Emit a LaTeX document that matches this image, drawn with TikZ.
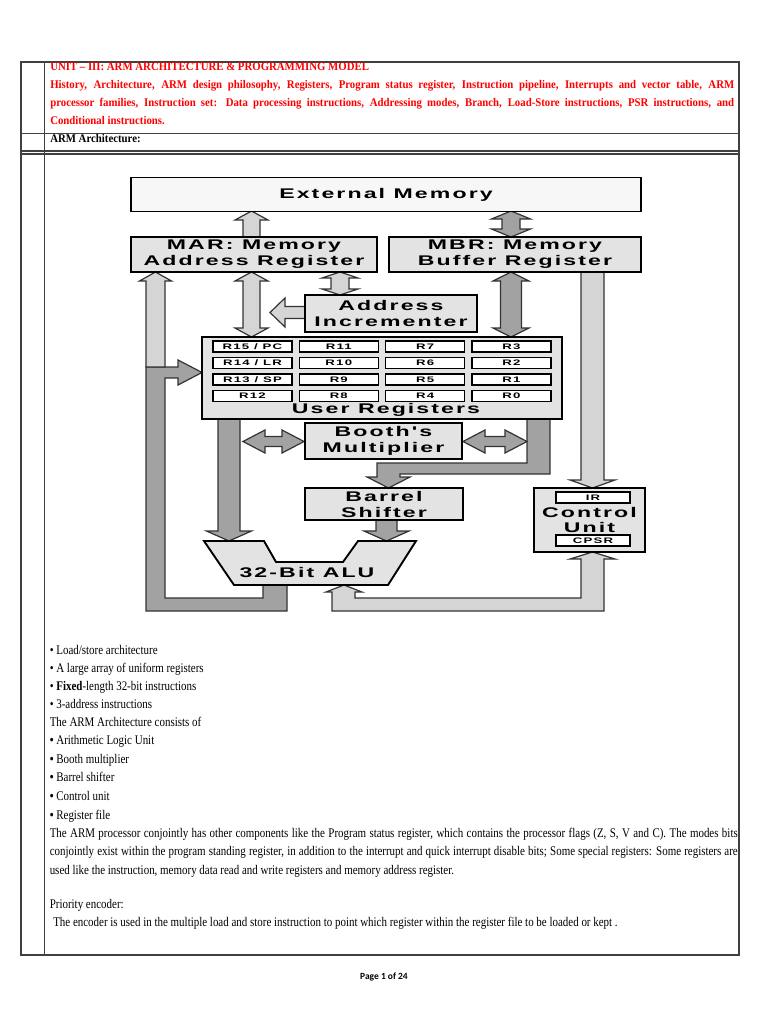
\documentclass[tikz,border=0pt]{standalone}
\usepackage{fontspec}
\setmainfont{Liberation Serif}[FakeStretch=0.83]
\newfontfamily\headfont{Liberation Serif}[FakeStretch=0.92]
\newfontfamily\blockfont{Liberation Sans Bold}[FakeStretch=1.65,LetterSpace=15]
\newfontfamily\footfont{Carlito}
\definecolor{headred}{HTML}{FF0000}
\definecolor{panelgray}{HTML}{E3E3E3}
\definecolor{buslight}{HTML}{D5D5D5}
\definecolor{busdark}{HTML}{A2A2A2}
\definecolor{rulegray}{HTML}{404040}

% Block arrows of the data paths: fill, centre, tips, shaft and head half widths.
\newcommand{\busvboth}[7]{%
  \filldraw[busline,fill=#1] ({#2-#5},{#3+#7}) -- ({#2-#6},{#3+#7}) -- (#2,#3)
    -- ({#2+#6},{#3+#7}) -- ({#2+#5},{#3+#7}) -- ({#2+#5},{#4-#7})
    -- ({#2+#6},{#4-#7}) -- (#2,#4) -- ({#2-#6},{#4-#7}) -- ({#2-#5},{#4-#7}) -- cycle;}
\newcommand{\bushboth}[7]{%
  \filldraw[busline,fill=#1] ({#3+#7},{#2-#5}) -- ({#3+#7},{#2-#6}) -- (#3,#2)
    -- ({#3+#7},{#2+#6}) -- ({#3+#7},{#2+#5}) -- ({#4-#7},{#2+#5})
    -- ({#4-#7},{#2+#6}) -- (#4,#2) -- ({#4-#7},{#2-#6}) -- ({#4-#7},{#2-#5}) -- cycle;}
\newcommand{\busvone}[7]{%
  \filldraw[busline,fill=#1] ({#2-#6},#5) -- ({#2-#6},#4) -- ({#2-#7},#4) -- (#2,#3)
    -- ({#2+#7},#4) -- ({#2+#6},#4) -- ({#2+#6},#5) -- cycle;}
\newcommand{\bushone}[7]{%
  \filldraw[busline,fill=#1] (#5,{#2-#6}) -- (#4,{#2-#6}) -- (#4,{#2-#7}) -- (#3,#2)
    -- (#4,{#2+#7}) -- (#4,{#2+#6}) -- (#5,{#2+#6}) -- cycle;}

\begin{document}
\begin{tikzpicture}[x=0.75pt,y=-0.75pt,
    unitbox/.style={draw=black,line width=1.4pt,fill=panelgray,inner sep=0pt,
      align=center,font=\blockfont\fontsize{10.5}{12}\selectfont},
    regcell/.style={draw=black,line width=1.2pt,fill=white,inner sep=0pt,
      minimum width=59.25pt,minimum height=8.25pt,
      font=\blockfont\fontsize{6}{6}\selectfont},
    busline/.style={draw=black!80,line width=0.9pt,line join=miter},
    tablerule/.style={draw=rulegray,line width=1pt},
    headline/.style={anchor=base west,inner sep=0pt,text=headred,
      font=\headfont\bfseries\fontsize{8.8}{9}\selectfont},
    bodyline/.style={anchor=base west,inner sep=0pt,font=\fontsize{9.9}{10}\selectfont}]
  \fill[white] (0,0) rectangle (768,1024);
  \useasboundingbox (0,0) rectangle (768,1024);

  % Table frame of the page.
  \draw[tablerule] (21,62) rectangle (739,955);
  \draw[tablerule] (44.5,62) -- (44.5,955);
  \draw[tablerule] (21,133.3) -- (739,133.3);
  \draw[tablerule] (21,151) -- (739,151);
  \draw[tablerule] (21,154) -- (739,154);

  % Unit heading in red.
  \node[headline] (unit) at (50,71) {UNIT – III: ARM ARCHITECTURE \& PROGRAMMING MODEL};
  \node[headline] (topicsa) at (50,89) {\makebox[513pt][s]{History, Architecture, ARM design
    philosophy, Registers, Program status register, Instruction pipeline, Interrupts and
    vector table, ARM}};
  \node[headline] (topicsb) at (50,107) {\makebox[513pt][s]{processor families, Instruction
    set: Data processing instructions, Addressing modes, Branch, Load-Store instructions,
    PSR instructions, and}};
  \node[headline] (topicsc) at (50,124.5) {Conditional instructions.};
  \node[headline,text=black] (archtitle) at (50,142.5) {ARM Architecture:};

  % Data paths, drawn before the units so the unit borders stay on top.
  \filldraw[busline,fill=busdark] (287,585) -- (287,611) -- (146,611) -- (146,367)
    -- (178,367) -- (178,360) -- (202,372.5) -- (178,385) -- (178,378) -- (165,378)
    -- (165,598) -- (263,598) -- (263,585) -- cycle;
  \busvone{buslight}{155.5}{272}{281}{367}{9.5}{16}
  \filldraw[busline,fill=busdark] (550,419) -- (550,474) -- (400,474) -- (400,477)
    -- (410,477) -- (388.5,488) -- (367,477) -- (377,477) -- (377,463) -- (527,463)
    -- (527,419) -- cycle;
  \filldraw[busline,fill=buslight] (332,611) -- (332,592) -- (326,592) -- (344,585)
    -- (362,592) -- (355,592) -- (355,598) -- (581,598) -- (581,559) -- (570,559)
    -- (592.5,552) -- (615,559) -- (604,559) -- (604,611) -- cycle;
  \busvone{buslight}{592.5}{488}{480}{272}{11.5}{22.5}
  \busvone{busdark}{229}{541}{531}{419}{11}{22.5}
  \busvone{busdark}{386.5}{541}{531}{520}{10.5}{22.5}
  \busvone{buslight}{251.5}{211}{220}{237}{8.5}{16.5}
  \busvboth{busdark}{511}{211}{237}{9}{19.5}{8}
  \busvboth{buslight}{251.5}{272}{337}{8.5}{16.5}{9}
  \busvboth{buslight}{340}{272}{295}{9}{18}{6}
  \busvboth{busdark}{511}{272}{337}{10.5}{18}{9}
  \bushone{buslight}{312.5}{270}{285}{305}{6}{14.5}
  \bushboth{busdark}{441.5}{243}{304}{5}{11.5}{22}
  \bushboth{busdark}{441.5}{463}{527}{5}{11.5}{22}

  % Functional units.
  \node[unitbox,fill=black!3,minimum width=382.5pt,minimum height=25.5pt] (extmem)
    at (386,194.5) {External Memory};
  \node[unitbox,minimum width=184.5pt,minimum height=26.25pt] (mar)
    at (254,254.5) {MAR: Memory\\Address Register};
  \node[unitbox,minimum width=189pt,minimum height=26.25pt] (mbr)
    at (515,254.5) {MBR: Memory\\Buffer Register};
  \node[unitbox,minimum width=129pt,minimum height=27.75pt] (incr)
    at (391,313.5) {Address\\Incrementer};
  \node[unitbox,minimum width=270pt,minimum height=61.5pt] (userregs) at (382,378) {};
  \node[inner sep=0pt,font=\blockfont\fontsize{10.5}{12}\selectfont] (userlabel)
    at (386,410) {User Registers};
  \foreach \lab [count=\k from 0] in {R15 \slash{} PC,R11,R7,R3,R14 \slash{} LR,R10,R6,R2,
      R13 \slash{} SP,R9,R5,R1,R12,R8,R4,R0} {
    \pgfmathtruncatemacro{\row}{div(\k,4)}
    \pgfmathtruncatemacro{\col}{mod(\k,4)}
    \pgfmathsetmacro{\xc}{252.5+86.3*\col}
    \pgfmathsetmacro{\yc}{346.5+16.5*\row}
    \node[regcell] (reg\k) at (\xc,\yc) {\lab};
  }
  \node[unitbox,minimum width=117.75pt,minimum height=27pt] (booth)
    at (383.5,441) {Booth's\\Multiplier};
  \node[unitbox,minimum width=118.5pt,minimum height=24pt] (shifter)
    at (384,504) {Barrel\\Shifter};
  \node[unitbox,minimum width=83.25pt,minimum height=48pt,
    font=\blockfont\fontsize{10.5}{11.5}\selectfont] (control)
    at (589.5,520) {Control\\Unit};
  \node[regcell,minimum width=55.5pt] (ir) at (593,497.5) {IR};
  \node[regcell,minimum width=55.5pt] (cpsr) at (593,540.5) {CPSR};
  \filldraw[draw=black,line width=1.4pt,fill=panelgray] (204,541) -- (264,541)
    -- (276,562) -- (343,562) -- (358,541) -- (416,541) -- (388,585) -- (234,585) -- cycle;
  \node[inner sep=0pt,font=\blockfont\fontsize{10.5}{12}\selectfont] (alu)
    at (307,572) {32-Bit ALU};

  % Notes below the figure.
  \node[bodyline] (feata) at (49.5,654.5) {• Load/store architecture};
  \node[bodyline] (featb) at (49.5,672.5) {• A large array of uniform registers};
  \node[bodyline] (featc) at (49.5,690.5) {• \textbf{Fixed}-length 32-bit instructions};
  \node[bodyline] (featd) at (49.5,708) {• 3-address instructions};
  \node[bodyline] (consists) at (49.5,726) {The ARM Architecture consists of};
  \foreach \part/\yb [count=\n] in {Arithmetic Logic Unit/744.5,Booth multiplier/763,
      Barrel shifter/781.5,Control unit/800.5,Register file/819} {
    \node[bodyline] (part\n) at (49.5,\yb) {\textbf{•} \part};
  }
  \node[bodyline] (parala) at (49.5,837.5) {\makebox[516pt][s]{The ARM processor conjointly
    has other components like the Program status register, which contains the processor
    flags (Z, S, V and C). The modes bits}};
  \node[bodyline] (paralb) at (49.5,855.5) {\makebox[516pt][s]{conjointly exist within the
    program standing register, in addition to the interrupt and quick interrupt disable
    bits; Some special registers: Some registers are}};
  \node[bodyline] (paralc) at (49.5,874) {used like the instruction, memory data read and
    write registers and memory address register.};
  \node[bodyline] (prio) at (49.5,908.5) {Priority encoder:};
  \node[bodyline] (priotext) at (53,926.5) {The encoder is used in the multiple load and
    store instruction to point which register within the register file to be loaded or kept .};

  % Page footer.
  \node[font=\footfont\bfseries\fontsize{7.1}{8}\selectfont] (pageno) at (384,977)
    {Page 1 of 24};
\end{tikzpicture}
\end{document}
